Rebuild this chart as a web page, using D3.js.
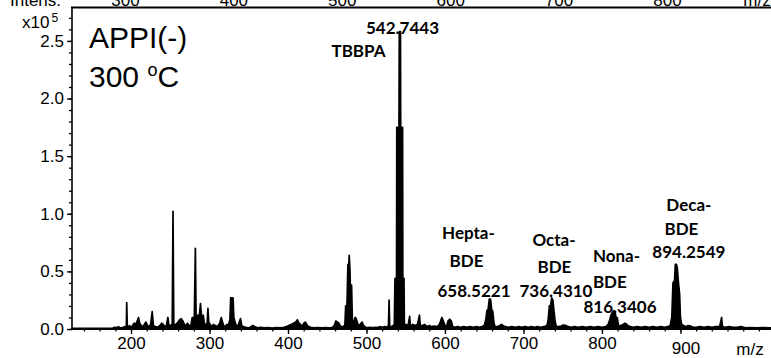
<!DOCTYPE html>
<html lang="en">
<head>
<meta charset="UTF-8">
<title>APPI(-) 300 C spectrum</title>
<style>
    body { margin: 0; background: #fff; }
    svg { display: block; }
    .axis text { font-family: "Liberation Sans", Arial, sans-serif; font-size: 17px; fill: #000; }
    .axis line { stroke: #000; stroke-width: 1.3; }
    .axis path { display: none; }
    .lbl { font-family: Lato, "Open Sans", sans-serif; font-weight: 700; font-size: 17px; fill: #000; }
</style>
</head>
<body>
<div id="chart"></div>
<script src="https://d3js.org/d3.v7.min.js"></script>
<script>
    // spectrum profile, [m/z, intensity x10^5]
    const lowMass = [
        [125, 0.005], [176, 0.005], [179, 0.015], [181, 0.01], [184, 0.02], [186, 0.008],
        [189, 0.012], [192, 0.02], [194, 0.01], [194.5, 0.23], [195.3, 0.01], [198, 0.03],
        [200, 0.015], [202, 0.03], [204, 0.05], [206, 0.04], [208, 0.07], [209.5, 0.1],
        [211, 0.05], [213, 0.03], [215, 0.02], [217, 0.04], [219, 0.06], [221, 0.03],
        [223, 0.02], [225, 0.04], [227, 0.15], [228.5, 0.03], [231, 0.02], [234, 0.015],
        [237, 0.03], [239, 0.05], [241, 0.04], [243, 0.02], [245, 0.03], [247, 0.1],
        [248.5, 0.02], [250, 0.03], [252.5, 0.04], [253.5, 1.02], [254.5, 0.03], [257, 0.04],
        [260, 0.06], [262, 0.08], [264, 0.09], [266, 0.07], [268, 0.04], [270, 0.03],
        [272, 0.05], [274, 0.03], [276, 0.02], [278, 0.1], [279.5, 0.1], [280.5, 0.04],
        [282, 0.7], [283, 0.05], [285, 0.12], [286.5, 0.08], [288.5, 0.22], [290, 0.1],
        [292, 0.12], [293.5, 0.05], [295, 0.03], [297, 0.05], [298, 0.18], [299, 0.06],
        [301, 0.04], [303, 0.02], [305, 0.04], [307, 0.03], [309, 0.02], [311, 0.03],
        [313, 0.05], [315, 0.1], [316.5, 0.06], [318, 0.03], [320, 0.02], [322, 0.04],
        [324, 0.03], [326, 0.08], [327, 0.27], [330, 0.27], [331, 0.1], [333, 0.05],
        [335, 0.02], [337, 0.04], [339.5, 0.09], [341, 0.03], [343, 0.02], [346, 0.015],
        [349, 0.01]
    ];
    const midMass = [
        [352, 0.015], [355, 0.03], [358, 0.02], [361, 0.01], [365, 0.015], [370, 0.01],
        [375, 0.012], [380, 0.008], [385, 0.012], [390, 0.01], [395, 0.015], [398, 0.02],
        [401, 0.03], [404, 0.04], [407, 0.05], [410, 0.06], [412, 0.08], [414, 0.05],
        [416, 0.04], [418, 0.02], [420, 0.05], [422, 0.06], [424, 0.04], [426, 0.02],
        [429, 0.015], [433, 0.01], [438, 0.012], [443, 0.01], [448, 0.012], [452, 0.01],
        [456, 0.012], [459, 0.03], [461, 0.07], [463, 0.06], [465, 0.05], [467, 0.02],
        [471, 0.02], [472.5, 0.04], [473.5, 0.2], [474.5, 0.08], [475.5, 0.3], [476.3, 0.56],
        [477.2, 0.52], [478, 0.64], [479, 0.5], [480, 0.2], [481, 0.38], [482, 0.08],
        [484, 0.06], [485.5, 0.1], [487, 0.09], [488.5, 0.05], [490, 0.03], [492, 0.04],
        [494.5, 0.06], [496, 0.03], [499, 0.015], [502, 0.012], [505, 0.015], [508, 0.01],
        [511, 0.015], [514, 0.012], [517, 0.02], [520, 0.015], [523, 0.02], [526, 0.015],
        [528, 0.03], [528.8, 0.25], [529.6, 0.02], [532, 0.02], [534, 0.03], [535.5, 0.04]
    ];
    const tbbpa = [
        [536.3, 0.44], [538.3, 0.44], [538.6, 1.75], [541.4, 1.75], [541.8, 2.58], [543.3, 2.58],
        [543.6, 1.75], [546, 1.75], [546.3, 0.44], [547.8, 0.44], [548.3, 0.03], [550, 0.04],
        [553, 0.03], [555, 0.11], [556, 0.02], [559, 0.04], [562, 0.03], [565, 0.04],
        [567.5, 0.12], [568.5, 0.03], [571, 0.03], [574, 0.04], [577, 0.02], [580, 0.03],
        [583, 0.02], [586, 0.025], [589, 0.02], [592, 0.03], [594, 0.06], [596, 0.1],
        [598, 0.07], [600, 0.03], [602, 0.02], [604, 0.07], [606, 0.085], [608, 0.07],
        [610, 0.02], [613, 0.015], [616, 0.02], [620, 0.015], [624, 0.02], [628, 0.015],
        [632, 0.02], [636, 0.015], [640, 0.02], [644, 0.015], [647, 0.02], [650, 0.03]
    ];
    const bdeMass = [
        [652, 0.08], [653.5, 0.16], [655, 0.17], [656.5, 0.26], [658, 0.26], [659.5, 0.17],
        [661, 0.15], [662.5, 0.05], [664, 0.02], [667, 0.02], [670, 0.03], [672, 0.04],
        [674, 0.03], [677, 0.02], [681, 0.015], [685, 0.02], [690, 0.015], [694, 0.02],
        [698, 0.015], [702, 0.02], [706, 0.015], [710, 0.02], [714, 0.015], [718, 0.02],
        [722, 0.015], [726, 0.02], [730, 0.03], [731.5, 0.08], [733, 0.2], [734.5, 0.2],
        [736, 0.27], [737.5, 0.25], [739, 0.15], [740.5, 0.06], [742, 0.02], [745, 0.02],
        [748, 0.025], [751, 0.035], [754, 0.03], [757, 0.02], [761, 0.015], [765, 0.02],
        [770, 0.015], [775, 0.02], [780, 0.015], [785, 0.02], [790, 0.015], [795, 0.02],
        [800, 0.015], [805, 0.02], [808, 0.04], [810, 0.08], [811.5, 0.12], [813, 0.14],
        [815, 0.16], [816.5, 0.15], [818, 0.1], [819.5, 0.1], [821, 0.03], [824, 0.03],
        [827, 0.04], [829, 0.05], [831, 0.045], [833, 0.03], [836, 0.02], [840, 0.015],
        [845, 0.02], [850, 0.015], [855, 0.02], [860, 0.015], [865, 0.02], [870, 0.015],
        [875, 0.02], [880, 0.015], [884, 0.02], [887, 0.03], [889, 0.1], [890.5, 0.4],
        [892.5, 0.42], [893.5, 0.56], [895, 0.56], [896, 0.53], [897.5, 0.4], [899, 0.3],
        [900, 0.1], [901.5, 0.04], [904, 0.03], [907, 0.02], [910, 0.03], [913, 0.025],
        [916, 0.015], [920, 0.015], [925, 0.02], [930, 0.015], [935, 0.02], [940, 0.015],
        [945, 0.02], [950, 0.02], [952.5, 0.1], [953.5, 0.02], [957, 0.015], [962, 0.02],
        [967, 0.015], [972, 0.015], [977, 0.02], [983, 0.01], [990, 0.012], [997, 0.01],
        [1005, 0.012], [1015, 0.01]
    ];

    const xTicks = [200, 300, 400, 500, 600, 700, 800, 900];
    const yTicks = [0, 0.5, 1.0, 1.5, 2.0, 2.5];
    const topTicks = [300, 400, 500, 600, 700, 800];

    // annotation text
    const peakLabels = [
        "542.7443", "TBBPA",
        "Hepta-", "BDE", "658.5221",
        "Octa-", "BDE", "736.4310",
        "Nona-", "BDE", "816.3406",
        "Deca-", "BDE", "894.2549"
    ];

    const W = 771, H = 358;
    const svg = d3.select("#chart").append("svg")
        .attr("width", W)
        .attr("height", H);

    const x = d3.scaleLinear().domain([124.8, 1015.4]).range([72, 771]);
    const y = d3.scaleLinear().domain([0, 2.79]).range([329, 7.5]);
    const xTop = d3.scaleLinear().domain([300, 800]).range([125, 667]);

    // spectrum
    const spectrum = lowMass.concat(midMass, tbbpa, bdeMass);
    const area = d3.area()
        .x(d => x(d[0]))
        .y0(y(0))
        .y1(d => y(d[1]));
    svg.append("path")
        .datum(spectrum)
        .attr("d", area)
        .attr("fill", "#000")
        .attr("stroke", "#000")
        .attr("stroke-width", 1.7)
        .attr("stroke-linejoin", "round");

    // minor ticks
    svg.append("g").attr("class", "axis")
        .attr("transform", `translate(0,${y(0)})`)
        .call(d3.axisBottom(x).tickValues(d3.range(140, 1001, 20)).tickSize(2.5).tickFormat(""));
    svg.append("g").attr("class", "axis")
        .attr("transform", `translate(${x.range()[0]},0)`)
        .call(d3.axisLeft(y).tickValues(d3.range(0, 2.75, 0.1)).tickSize(3).tickFormat(""));

    // major axes
    const xAxis = svg.append("g").attr("class", "axis")
        .attr("transform", `translate(0,${y(0)})`)
        .call(d3.axisBottom(x).tickValues(xTicks).tickSize(5).tickPadding(3));
    xAxis.selectAll(".tick").filter(d => d === 900).select("text")
        .attr("dx", 5).attr("dy", "1.0em");

    svg.append("g").attr("class", "axis")
        .attr("transform", `translate(${x.range()[0]},0)`)
        .call(d3.axisLeft(y).tickValues(yTicks).tickSize(5).tickPadding(3)
            .tickFormat(d3.format(".1f")));

    // frame lines
    const frame = svg.append("g").attr("stroke", "#000");
    frame.append("line").attr("x1", 72).attr("x2", W).attr("y1", y(0)).attr("y2", y(0)).attr("stroke-width", 2);
    frame.append("line").attr("x1", 72).attr("x2", 72).attr("y1", y.range()[1]).attr("y2", y(0)).attr("stroke-width", 1.6);
    frame.append("line").attr("x1", 71).attr("x2", W).attr("y1", 7.5).attr("y2", 7.5).attr("stroke-width", 2);

    // top strip: axis of the panel above, cut by the picture edge
    svg.append("g").attr("class", "axis")
        .attr("transform", "translate(0,7.5)")
        .call(d3.axisTop(xTop).tickValues(topTicks).tickSize(0).tickPadding(1.5));
    const axisFont = "'Liberation Sans', Arial, sans-serif";
    svg.append("text").attr("x", 10).attr("y", 6)
        .style("font-family", axisFont).style("font-size", "17px").text("Intens.");
    svg.append("text").attr("x", 757).attr("y", 6).attr("text-anchor", "middle")
        .style("font-family", axisFont).style("font-size", "17px").text("m/z");

    // bottom m/z and y units
    svg.append("text").attr("x", 750).attr("y", 355).attr("text-anchor", "middle")
        .style("font-family", axisFont).style("font-size", "17px").text("m/z");
    const unit = svg.append("text").attr("x", 22).attr("y", 28)
        .style("font-family", axisFont).style("font-size", "17px");
    unit.append("tspan").text("x10");
    unit.append("tspan").attr("dx", 2).attr("dy", -6).style("font-size", "12px").text("5");

    // title
    svg.append("text").attr("x", 89).attr("y", 48)
        .style("font-family", axisFont).style("font-size", "30px").text("APPI(-)");
    const temp = svg.append("text").attr("x", 89).attr("y", 87)
        .style("font-family", axisFont).style("font-size", "30px");
    temp.append("tspan").text("300 ");
    temp.append("tspan").attr("dy", -11).style("font-size", "18px").text("o");
    temp.append("tspan").attr("dy", 11).text("C");

    // annotation placement in data units: [m/z, intensity at baseline, anchor]
    const labelSpots = [
        [545.9, 2.557, "middle"], [489.8, 2.357, "middle"],
        [629.9, 0.783, "middle"], [627.4, 0.539, "middle"], [637, 0.278, "middle"],
        [738.9, 0.722, "middle"], [739.5, 0.487, "middle"], [741.4, 0.278, "middle"],
        [788.5, 0.583, "start"], [788.5, 0.357, "start"], [823, 0.139, "middle"],
        [910.8, 1.026, "middle"], [901.3, 0.817, "middle"], [910.8, 0.617, "middle"]
    ];
    svg.append("g").selectAll("text")
        .data(peakLabels)
        .join("text")
        .attr("class", "lbl")
        .attr("x", (d, i) => x(labelSpots[i][0]))
        .attr("y", (d, i) => y(labelSpots[i][1]))
        .attr("text-anchor", (d, i) => labelSpots[i][2])
        .text(d => d);
</script>
</body>
</html>
